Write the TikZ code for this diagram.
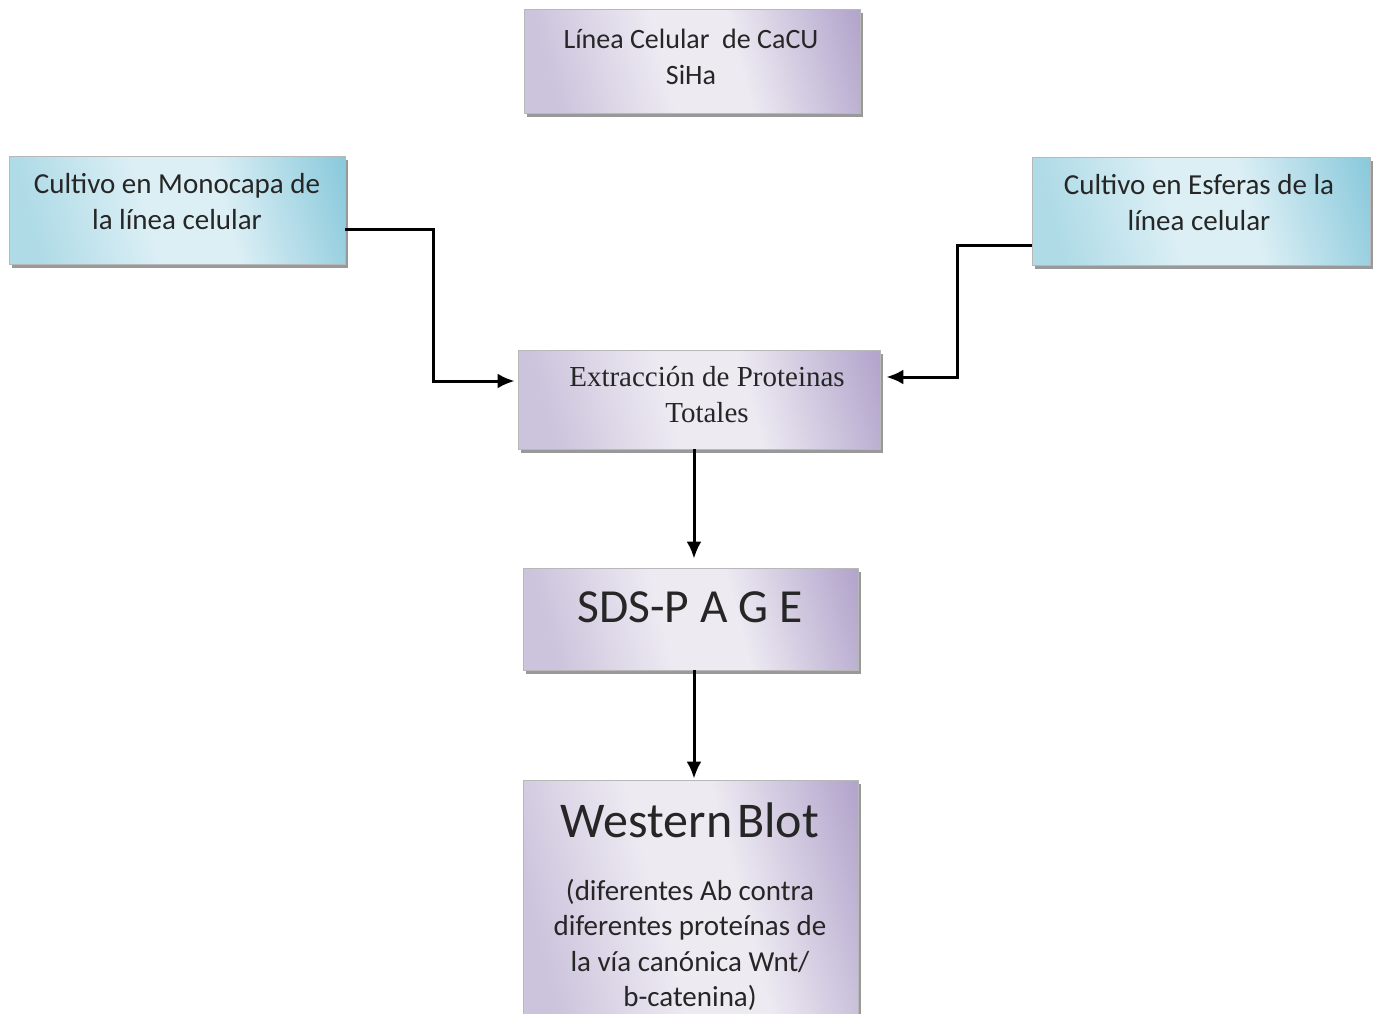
\documentclass[tikz,border=0pt]{standalone}
\usepackage{fontspec}
\setmainfont{Carlito}
\newfontfamily\tnr{Liberation Serif}
\usetikzlibrary{shadows,arrows.meta,calc}
\definecolor{pdark}{HTML}{B3A5CC}
\definecolor{pmid}{HTML}{CCC3DC}
\definecolor{plight}{HTML}{EDEAF2}
\definecolor{bdark}{HTML}{8BCADC}
\definecolor{bmid}{HTML}{AFDBE7}
\definecolor{blight}{HTML}{DCEFF5}
\pgfdeclarehorizontalshading{pshade}{100bp}{color(0bp)=(pmid); color(25bp)=(pmid); color(45bp)=(plight); color(58bp)=(plight); color(80bp)=(pdark); color(100bp)=(pdark)}
\pgfdeclarehorizontalshading{bshade}{100bp}{color(0bp)=(bmid); color(25bp)=(bmid); color(45bp)=(blight); color(58bp)=(blight); color(80bp)=(bdark); color(100bp)=(bdark)}
\tikzset{
  boxbase/.style={draw=black!28, line width=0.8pt, inner sep=0pt,
    drop shadow={shadow xshift=3pt, shadow yshift=-4pt, fill=black!40, opacity=1}},
  purplebox/.style={boxbase, shading=pshade, shading angle=15},
  bluebox/.style={boxbase, shading=bshade, shading angle=15},
  txt/.style={align=center, inner sep=0pt, text=black!85},
  conn/.style={line width=3pt, -{Latex[length=17pt,width=15pt]}},
}
\begin{document}
\begin{tikzpicture}[x=1pt,y=-1pt]
\useasboundingbox (0,0) rectangle (1377,1013);
\clip (0,0) rectangle (1377,1013);
% boxes
\node[purplebox, minimum width=336pt, minimum height=104pt] (T) at (692,61) {};
\node[bluebox, minimum width=336pt, minimum height=108pt] (L) at (177,210) {};
\node[bluebox, minimum width=338pt, minimum height=108pt] (R) at (1201,211) {};
\node[purplebox, minimum width=362pt, minimum height=99pt] (M) at (699,399.5) {};
\node[purplebox, minimum width=335pt, minimum height=102pt] (S) at (690.5,619) {};
\node[purplebox, minimum width=335pt, minimum height=250pt] (W) at (690.5,905) {};
% texts
\node[txt, font=\fontsize{28}{36}\selectfont] (tT) at (691,57) {Línea Celular\hspace{0.45em}de CaCU\\SiHa};
\node[txt, font=\fontsize{29}{36}\selectfont] (tL) at (177,202) {Cultivo en Monocapa de\\la línea celular};
\node[txt, font=\fontsize{29}{36}\selectfont] (tR) at (1199,203) {Cultivo en Esferas de la\\línea celular};
\node[txt, font=\tnr\fontsize{29}{36}\selectfont] (tM) at (707,395) {Extracción de Proteinas\\Totales};
\node[txt, font=\fontsize{47.5}{52}\selectfont] (tS) at (690,607) {SDS-P A G E};
\node[txt, font=\fontsize{50}{56}\selectfont] (tW) at (690,820) {Western\hspace{0.1em}Blot};
\node[txt, font=\fontsize{29}{35.5}\selectfont] (tW2) at (690,945) {(diferentes Ab contra\\diferentes proteínas de\\la vía canónica Wnt/\\b-catenina)};
% connectors
\draw[conn] (L.east |- 0,229) -- (433,229) |- ($(M.west)+(-3,-18.5)$);
\draw[conn] (R.west |- 0,245) -- (957,245) |- ($(M.east)+(6,-22.5)$);
\draw[conn] (M.south -| 694,0) -- ($(S.north -| 694,0)+(0,-9)$);
\draw[conn] (S.south -| 694,0) -- ($(W.north -| 694,0)+(0,-1)$);
\end{tikzpicture}
\end{document}
